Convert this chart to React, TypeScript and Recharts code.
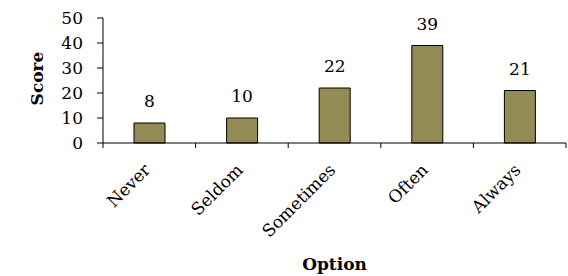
import React from 'react';
import { Bar, BarChart, LabelList, XAxis, YAxis } from 'recharts';

const options = ['Never', 'Seldom', 'Sometimes', 'Often', 'Always'];
const scores = [8, 10, 22, 39, 21];
const yTicks = [0, 10, 20, 30, 40, 50];

const data = options.map((option, i) => ({ option, score: scores[i] }));

const W = 568;
const H = 276;
const LEFT = 103;
const RIGHT = 2;
const FONT = '"DejaVu Serif", serif';
const STEP = (W - LEFT - RIGHT) / options.length;

const XTick = (props: any) => {
  const { x, y, payload, index } = props;
  return (
    <g>
      <line x1={x - STEP / 2} x2={x - STEP / 2} y1={y} y2={y + 5} stroke="#000" />
      {index === options.length - 1 && (
        <line x1={x + STEP / 2} x2={x + STEP / 2} y1={y} y2={y + 5} stroke="#000" />
      )}
      <text
        transform={`translate(${x + 2},${y + 28}) rotate(-45)`}
        textAnchor="end"
        fontFamily={FONT}
        fontSize={17}
        fill="#000"
      >
        {payload.value}
      </text>
    </g>
  );
};

const ScoreLabel = (props: any) => {
  const { viewBox } = props;
  const cx = 37;
  const cy = viewBox.y + viewBox.height / 2 - 2;
  return (
    <text
      transform={`translate(${cx},${cy}) rotate(-90)`}
      textAnchor="middle"
      dominantBaseline="central"
      fontFamily={FONT}
      fontSize={17}
      fontWeight="bold"
      fill="#000"
    >
      Score
    </text>
  );
};

export default function App() {
  return (
    <div style={{ position: 'absolute', left: 0, top: 0, background: '#fff' }}>
      <BarChart
        width={W}
        height={H}
        data={data}
        margin={{ top: 18, right: RIGHT, bottom: 0, left: 0 }}
      >
        <XAxis
          dataKey="option"
          height={133}
          stroke="#000"
          tickLine={false}
          tickSize={0}
          tickMargin={0}
          tick={<XTick />}
          interval={0}
          label={{
            value: 'Option',
            position: 'insideBottom',
            offset: 6,
            fontFamily: FONT,
            fontSize: 17,
            fontWeight: 'bold',
            fill: '#000',
          }}
        />
        <YAxis
          width={LEFT}
          domain={[0, 50]}
          ticks={yTicks}
          interval={0}
          stroke="#000"
          tickSize={6}
          tickMargin={14}
          tick={{ fontFamily: FONT, fontSize: 17, fill: '#000' }}
          label={<ScoreLabel />}
        />
        <Bar
          dataKey="score"
          fill="#948A54"
          stroke="#000"
          strokeWidth={1}
          barSize={31}
          isAnimationActive={false}
        >
          <LabelList
            dataKey="score"
            position="top"
            offset={16}
            fontFamily={FONT}
            fontSize={17}
            fill="#000"
          />
        </Bar>
      </BarChart>
    </div>
  );
}
